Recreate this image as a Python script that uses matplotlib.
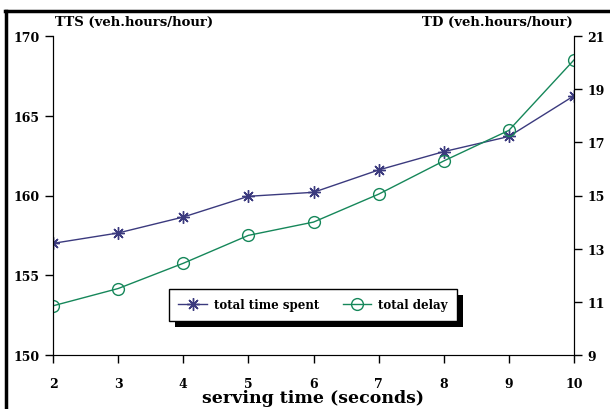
import matplotlib
matplotlib.use('Agg')
import matplotlib.pyplot as plt
from matplotlib.patches import Rectangle
from matplotlib.lines import Line2D

# data
serving_time = [2, 3, 4, 5, 6, 7, 8, 9, 10]
tts = [157.0, 157.65, 158.65, 159.95, 160.2, 161.6, 162.75, 163.7, 166.25]
td = [10.85, 11.5, 12.45, 13.5, 14.0, 15.05, 16.3, 17.45, 20.1]

tts_color = '#3b3a7e'
td_color = '#16875a'

plt.rcParams['font.family'] = 'DejaVu Serif'
plt.rcParams['font.weight'] = 'bold'

fig = plt.figure(figsize=(6.1, 4.1), dpi=100)
ax = fig.add_axes([53 / 610, 1 - 356 / 410, 521 / 610, 319 / 410])
ax2 = ax.twinx()

l1, = ax.plot(serving_time, tts, color=tts_color, lw=1, marker=(8, 2, 0),
              markersize=9, markeredgewidth=1, label='total time spent')
l2, = ax2.plot(serving_time, td, color=td_color, lw=1, marker='o',
               markersize=8.5, markerfacecolor='none', markeredgewidth=1,
               label='total delay')

ax.set_xlim(2, 10)
ax.set_ylim(150, 170)
ax2.set_ylim(9, 21)
ax.set_xticks(serving_time)
ax.set_yticks([150, 155, 160, 165, 170])
ax2.set_yticks([9, 11, 13, 15, 17, 19, 21])

for a in (ax, ax2):
    a.spines['top'].set_visible(False)
    a.tick_params(labelsize=9, length=6, width=1, color='black')
    for lab in a.get_xticklabels() + a.get_yticklabels():
        lab.set_fontweight('bold')
ax.spines['bottom'].set_color('#555555')
ax.tick_params(axis='x', pad=10)

# x axis title, kept just inside the bottom edge
fig.text(313 / 610, 1 - 399 / 410, 'serving time (seconds)', fontsize=12.5,
         fontweight='bold', ha='center', va='center')
fig.text(55 / 610, 1 - 22 / 410, 'TTS (veh.hours/hour)', fontsize=9.5,
         fontweight='bold', ha='left', va='center')
fig.text(573 / 610, 1 - 22 / 410, 'TD (veh.hours/hour)', fontsize=9.5,
         fontweight='bold', ha='right', va='center')

leg = ax2.legend(handles=[l1, l2], loc='center', bbox_to_anchor=(0.499, 0.157),
                 ncol=2, frameon=True, fancybox=False, edgecolor='black',
                 framealpha=1, fontsize=8.5, handlelength=2.4,
                 columnspacing=2.0, borderpad=0.8, handletextpad=0.6)
leg.get_frame().set_linewidth(1)
for t in leg.get_texts():
    t.set_fontweight('bold')
leg.set_zorder(5)

# black drop shadow behind legend
fig.canvas.draw()
bb = leg.get_window_extent()
shadow = Rectangle((bb.x0 + 6, bb.y0 - 6), bb.width, bb.height,
                   transform=None, facecolor='black', edgecolor='none', zorder=4)
ax2.add_artist(shadow)

# page frame lines (left and top)
fig.add_artist(Line2D([6 / 610, 6 / 610], [0, 1 - 12 / 410], color='black', lw=2.5,
                      transform=fig.transFigure))
fig.add_artist(Line2D([5 / 610, 1], [1 - 12 / 410, 1 - 12 / 410], color='black', lw=2.5,
                      transform=fig.transFigure))

fig.savefig('out.png', dpi=100)
